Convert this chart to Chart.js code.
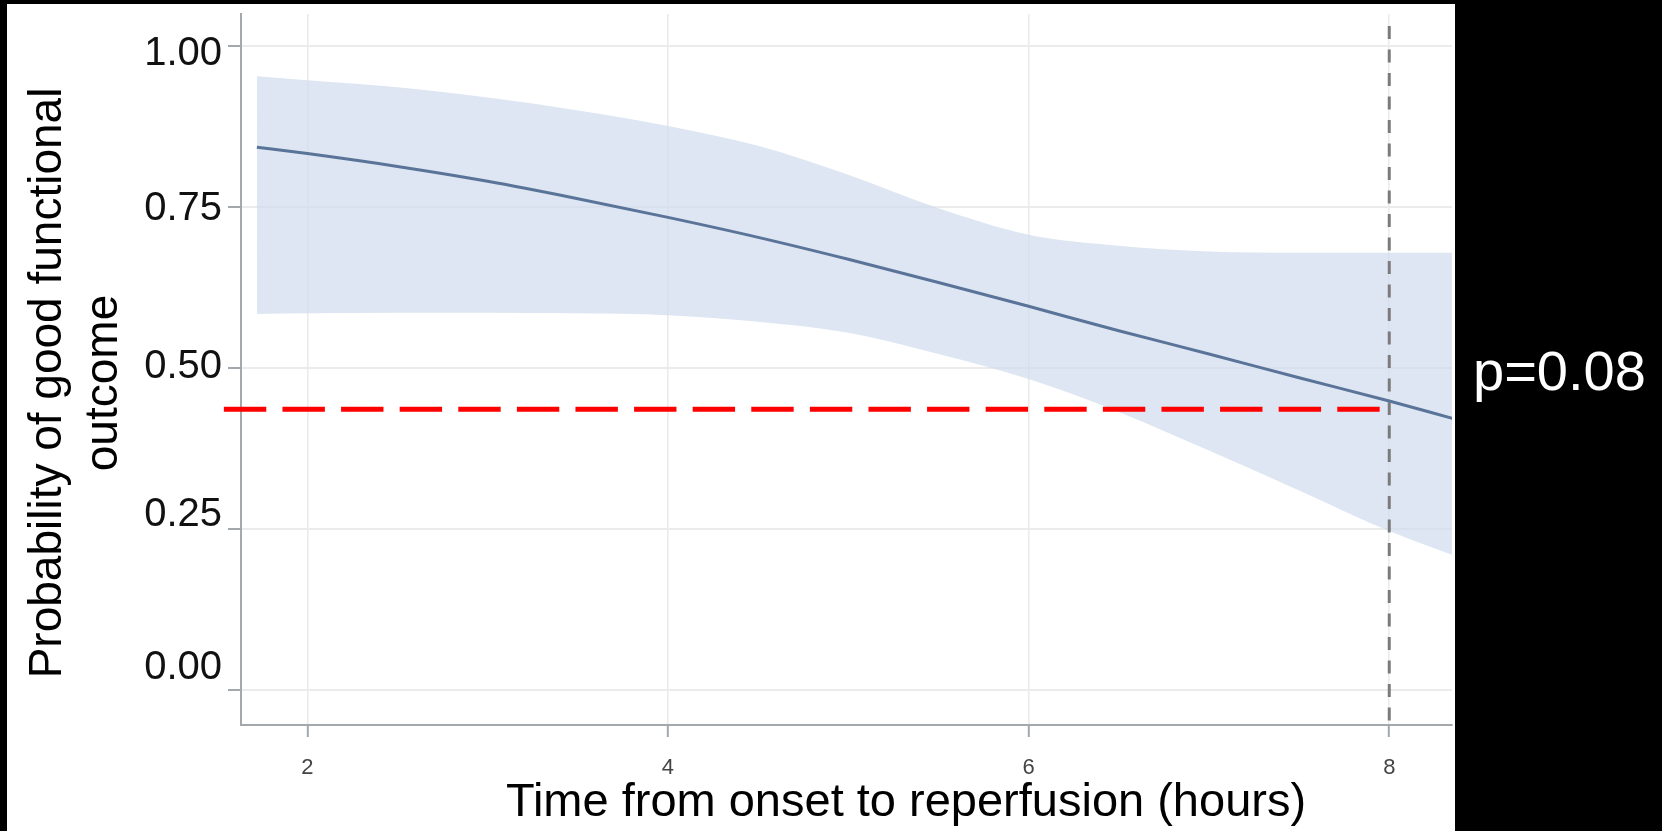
<!DOCTYPE html>
<html>
<head>
<meta charset="utf-8">
<script src="https://cdn.jsdelivr.net/npm/chart.js@4.4.1/dist/chart.umd.min.js"></script>
<style>
  html, body { margin: 0; padding: 0; background: #000; }
  #wrap { width: 1662px; height: 831px; }
</style>
</head>
<body>
<div id="wrap"><canvas id="chart" width="1662" height="831"></canvas></div>
<script>
// Fitted probability of good functional outcome vs. time to reperfusion
const hours       = [1.72, 2.0, 2.5, 3.0, 3.5, 4.0, 4.5, 5.0, 5.5, 6.0, 6.5, 7.0, 7.5, 8.0, 8.35];
const probability = [0.843, 0.833, 0.813, 0.790, 0.763, 0.734, 0.703, 0.669, 0.633, 0.596, 0.558, 0.522, 0.485, 0.449, 0.422];
const upperCI     = [0.953, 0.947, 0.936, 0.920, 0.900, 0.876, 0.845, 0.800, 0.748, 0.707, 0.690, 0.681, 0.679, 0.679, 0.679];
const lowerCI     = [0.584, 0.585, 0.586, 0.586, 0.585, 0.582, 0.572, 0.555, 0.522, 0.483, 0.432, 0.372, 0.310, 0.247, 0.210];

// Reference lines: outcome level marked in red, 8-hour cut-off in grey
const cutoffLevel = 0.436;
const cutoffSpan  = [1.537, 7.954];
const refHour     = 8;
const refSpan     = [-0.054, 1.031];

// Axes
const xTicks = [2, 4, 6, 8];
const xTickLabels = ['2', '4', '6', '8'];
const yTicks = [0, 0.25, 0.5, 0.75, 1.0];
const yTickLabels = ['0.00', '0.25', '0.50', '0.75', '1.00'];
const xRange = [1.632, 8.348];
const yRange = [-0.054, 1.0497];

const xTitle = 'Time from onset to reperfusion (hours)';
const yTitleLines = ['Probability of good functional', 'outcome'];
const pLabel = 'p=0.08';

const FONT = '"Liberation Sans", Arial, Helvetica, sans-serif';
const axisGrey = '#a3a8ad';
const gridGrey = '#ebebeb';
const yLabelNudge = [-22, -14, -1, 2, 8];

const pts = (xs, ys) => xs.map((x, i) => ({ x: x, y: ys[i] }));

const panelPlugin = {
  id: 'panel',
  beforeDraw(chart) {
    const ctx = chart.ctx;
    ctx.save();
    ctx.fillStyle = '#000';
    ctx.fillRect(0, 0, chart.width, chart.height);
    ctx.fillStyle = '#fff';
    ctx.fillRect(7, 4, 1448, chart.height - 4);
    ctx.restore();
  },
  afterDraw(chart) {
    const ctx = chart.ctx;
    const xs = chart.scales.x, ys = chart.scales.y, area = chart.chartArea;
    ctx.save();

    // y tick labels
    ctx.font = '40px ' + FONT;
    ctx.fillStyle = '#111';
    ctx.textAlign = 'right';
    ctx.textBaseline = 'middle';
    yTicks.forEach((v, i) => {
      ctx.fillText(yTickLabels[i], area.left - 19, ys.getPixelForValue(v) + yLabelNudge[i]);
    });

    // x tick labels
    ctx.font = '22px ' + FONT;
    ctx.fillStyle = '#444';
    ctx.textAlign = 'center';
    xTicks.forEach((v, i) => {
      ctx.fillText(xTickLabels[i], xs.getPixelForValue(v), area.bottom + 43);
    });

    // x title
    ctx.font = '47px ' + FONT;
    ctx.fillStyle = '#000';
    ctx.textAlign = 'center';
    ctx.textBaseline = 'alphabetic';
    ctx.fillText(xTitle, 906, 816);

    // y title, two rotated lines
    ctx.save();
    ctx.translate(0, 383);
    ctx.rotate(-Math.PI / 2);
    ctx.textBaseline = 'middle';
    ctx.font = '46px ' + FONT;
    ctx.fillText(yTitleLines[0], 0, 48);
    ctx.fillText(yTitleLines[1], 0, 104);
    ctx.restore();

    // p-value annotation
    ctx.font = '56px ' + FONT;
    ctx.fillStyle = '#fff';
    ctx.textAlign = 'left';
    ctx.fillText(pLabel, 1473, 390);

    ctx.restore();
  }
};

new Chart(document.getElementById('chart'), {
  type: 'line',
  data: {
    datasets: [
      {
        label: 'cutoff',
        data: pts(cutoffSpan, [cutoffLevel, cutoffLevel]),
        borderColor: '#ff0000',
        borderWidth: 5,
        borderDash: [42.4, 16.2],
        pointRadius: 0,
        fill: false,
        clip: false,
        order: 0
      },
      {
        label: 'reference hour',
        data: pts([refHour, refHour], [refSpan[1], refSpan[0]]),
        borderColor: '#7b7b7b',
        borderWidth: 3,
        borderDash: [13, 10.5],
        pointRadius: 0,
        fill: false,
        order: 1
      },
      {
        label: 'probability',
        data: pts(hours, probability),
        borderColor: '#5a7499',
        borderWidth: 3,
        pointRadius: 0,
        cubicInterpolationMode: 'monotone',
        fill: false,
        order: 2
      },
      {
        label: 'upper',
        data: pts(hours, upperCI),
        borderWidth: 0,
        borderColor: 'rgba(0,0,0,0)',
        backgroundColor: 'rgba(206,220,237,0.7)',
        pointRadius: 0,
        cubicInterpolationMode: 'monotone',
        fill: '+1',
        order: 3
      },
      {
        label: 'lower',
        data: pts(hours, lowerCI),
        borderWidth: 0,
        borderColor: 'rgba(0,0,0,0)',
        pointRadius: 0,
        cubicInterpolationMode: 'monotone',
        fill: false,
        order: 4
      }
    ]
  },
  options: {
    responsive: false,
    animation: false,
    devicePixelRatio: 1,
    layout: { padding: { left: 228, right: 210, top: 14, bottom: 94 } },
    plugins: { legend: { display: false }, tooltip: { enabled: false } },
    scales: {
      x: {
        type: 'linear',
        min: xRange[0],
        max: xRange[1],
        afterBuildTicks: (axis) => { axis.ticks = xTicks.map(v => ({ value: v })); },
        afterFit: (axis) => { axis.height = 12; },
        ticks: { display: false },
        grid: { color: gridGrey, lineWidth: 1.6, tickLength: 12, tickColor: axisGrey, tickWidth: 2 },
        border: { display: true, color: axisGrey, width: 2 }
      },
      y: {
        type: 'linear',
        min: yRange[0],
        max: yRange[1],
        afterBuildTicks: (axis) => { axis.ticks = yTicks.map(v => ({ value: v })); },
        afterFit: (axis) => { axis.width = 13; },
        ticks: { display: false },
        grid: { color: gridGrey, lineWidth: 2, tickLength: 13, tickColor: axisGrey, tickWidth: 2 },
        border: { display: true, color: axisGrey, width: 2 }
      }
    }
  },
  plugins: [panelPlugin]
});
</script>
</body>
</html>
